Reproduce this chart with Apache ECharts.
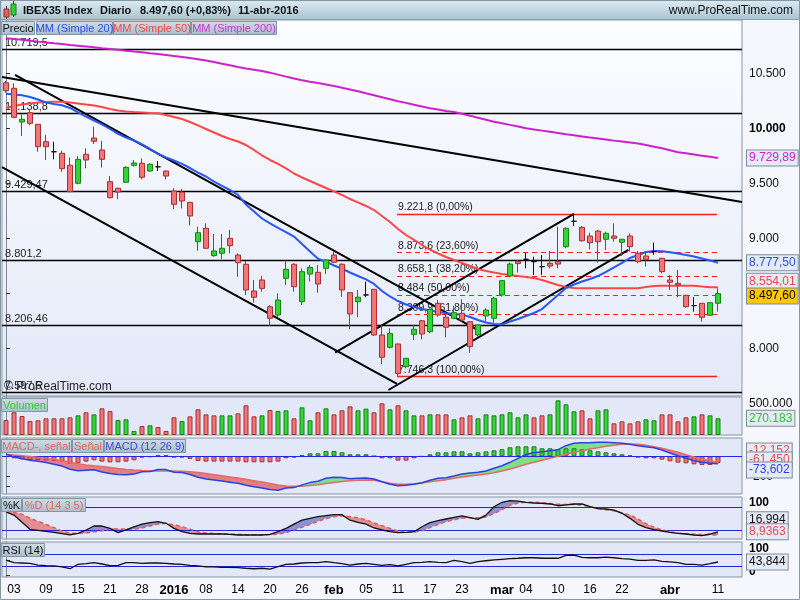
<!DOCTYPE html>
<html><head><meta charset="utf-8">
<script src="https://cdn.jsdelivr.net/npm/echarts@6/dist/echarts.min.js"></script>
<style>html,body{margin:0;padding:0;background:#f5f7fc;}#c{width:800px;height:600px;}</style>
</head><body><div id="c"></div>
<script>
// ---------- DATA ----------
const xTickIndex = [1,5,9,13,17,21,25,29,33,37,41,45,49,53,57,62,65,69,73,77,83,89];
const xTickText  = ['03','09','15','21','28','2016','08','14','20','26','feb','05','11','17','23','mar','04','10','16','22','abr','11'];
const boldTicks  = ['2016','feb','mar','abr'];

const open = [10414,10364,10057,10142,10036,9878,9787,9773,9664,9500, 9764,9912,9803,9515,9455,9509,9664,9682,9612,9650, 9612,9430,9420,9327,8969,9091,8842,8864,9000,8848, 8764,8521,8621,8378,8303,8636,8764,8424,8675,8691, 8727,8848,8764,8506,8424,8485,8536,8121,8009,8039, 7833,8127,8251,8151,8409,8282,8273,8318,8242,8121, 8294,8273,8485,8657,8788,8809,8788,8742,8773,8790, 8924,9155,9100,9021,9066,8991,9021,8964,9021,8864, 8839,8879,8818,8621,8591,8482,8388,8409,8300,8409];
const close = [10342,10100,10082,10045,9833,9833,9787,9633,9424,9718, 9712,9882,9718,9369,9421,9645,9685,9555,9673,9650, 9566,9309,9339,9203,9051,8909,8885,8909,8933,8778, 8530,8464,8545,8273,8439,8718,8560,8697,8736,8585, 8803,8782,8530,8312,8464,8485,8121,7918,8136,7771, 7909,8173,8130,8355,8303,8191,8324,8257,8015,8212, 8348,8455,8615,8766,8770,8809,8788,8742,8748,8766, 9091,9155,8978,8960,8969,9045,9000,8991,8924,8788, 8809,8879,8697,8600,8576,8378,8388,8282,8415,8497.6];
const low = [10324,10091,9930,10027,9787,9712,9718,9605,9420,9491, 9636,9857,9642,9364,9355,9505,9651,9536,9605,9612, 9536,9264,9270,9118,8887,8905,8833,8812,8864,8651, 8485,8415,8515,8203,8287,8575,8515,8394,8606,8506, 8676,8773,8469,8173,8282,8464,8112,7857,8000,7746, 7818,8076,8082,8136,8287,8100,8264,8242,7960,8106, 8242,8233,8469,8645,8688,8727,8667,8667,8727,8727, 8909,9112,8969,8900,8779,8894,8969,8839,8879,8773, 8742,8848,8682,8530,8464,8370,8333,8242,8295,8333];
const high = [10433,10409,10136,10166,10039,9939,9878,9796,9736,9748, 9818,10015,9885,9566,9460,9657,9712,9727,9682,9703, 9615,9455,9450,9330,9105,9136,9039,9039,9075,8864, 8794,8621,8657,8394,8500,8803,8773,8727,8757,8757, 8809,8879,8773,8510,8530,8606,8540,8212,8182,8045, 7912,8212,8255,8364,8439,8312,8385,8445,8245,8215, 8364,8469,8620,8779,8803,8869,8833,8848,8885,9105, 9100,9222,9112,9051,9075,9061,9136,8995,9045,8885, 8879,8960,8822,8667,8712,8485,8464,8412,8418,8545];

const ma20 = [10314,10307,10300,10285,10262,10235,10221,10209,10185,10144, 10107,10071,10035,9994,9950,9916,9889,9853,9812,9768, 9735,9707,9676,9639,9598,9562,9516,9476,9439,9394, 9307,9244,9180,9136,9094,9057,9016,8948,8880,8815, 8785,8753,8724,8689,8657,8626,8585,8521,8471,8430, 8398,8376,8357,8344,8330,8318,8312,8306,8285,8257, 8235,8221,8216,8244,8266,8294,8321,8357,8421,8485, 8548,8580,8607,8630,8657,8694,8735,8776,8821,8848, 8876,8885,8882,8873,8862,8848,8835,8816,8798,8777.5];
const ma50 = [10185,10203,10216,10226,10235,10239,10242,10242,10235,10226, 10216,10207,10194,10176,10162,10153,10148,10144,10139,10136, 10121,10103,10085,10057,10026,9994,9962,9930,9903,9880, 9848,9803,9753,9712,9676,9635,9589,9553,9521,9489, 9457,9426,9394,9357,9326,9294,9257,9203,9148,9085, 9030,8985,8939,8898,8862,8830,8803,8776,8748,8721, 8703,8689,8676,8666,8657,8648,8639,8621,8598,8576, 8557,8548,8546,8546,8546,8546,8546,8546,8546,8546, 8557,8566,8569,8569,8569,8569,8569,8562,8556,8554.01];
const ma200 = [10818,10811,10804,10796,10788,10781,10773,10766,10758,10751, 10744,10736,10728,10721,10714,10706,10698,10691,10683,10676, 10667,10658,10649,10639,10628,10616,10603,10587,10573,10557, 10544,10532,10521,10506,10488,10470,10452,10436,10423,10411, 10399,10385,10368,10353,10337,10318,10300,10282,10264,10246, 10231,10215,10199,10182,10170,10157,10148,10133,10115,10096, 10078,10059,10046,10031,10016,10001,9990,9979,9968,9957, 9946,9936,9926,9916,9907,9898,9888,9879,9870,9861, 9848,9833,9818,9800,9782,9773,9762,9751,9741,9729.89];

const volume = [242000,366000,306000,226000,237000,269000,269000,269000,285000,317000, 366000,333000,430000,387000,242000,253000,65000,145000,156000,129000, 65000,285000,226000,301000,414000,333000,317000,317000,317000,349000, 479000,301000,317000,403000,387000,398000,269000,446000,237000,366000, 430000,333000,398000,462000,398000,425000,366000,511000,414000,479000, 398000,317000,317000,333000,333000,333000,253000,285000,317000,269000, 333000,317000,333000,366000,285000,333000,285000,317000,333000,559000, 495000,382000,398000,269000,398000,414000,188000,220000,188000,220000, 253000,237000,333000,333000,220000,285000,301000,333000,317000,270183];

const macdLine = [20,-6,-24,-40,-49,-62,-80,-98,-130,-145, -139,-135,-156,-172,-182,-184,-178,-155,-152,-133, -133,-160,-163,-182,-210,-226,-237,-248,-259,-270, -290,-304,-318,-333,-340,-317,-313,-286,-263,-250, -220,-209,-212,-225,-220,-216,-227,-254,-280,-294, -290,-280,-264,-240,-220,-214,-197,-177,-167,-160, -147,-120,-94,-60,-20,20,36,46,56,66, 106,130,136,136,140,140,136,130,120,106, 96,86,63,33,6,-20,-44,-60,-70,-73.602];
const signalLine = [20,14,6,-3,-12,-22,-33,-45,-60,-75, -86,-95,-103,-112,-122,-131,-138,-142,-145,-146, -146,-147,-150,-155,-163,-173,-184,-195,-206,-217, -230,-244,-258,-273,-287,-297,-300,-299,-293,-284, -273,-262,-252,-245,-240,-236,-240,-254,-270,-280, -280,-274,-267,-254,-244,-234,-220,-207,-197,-187, -177,-164,-147,-127,-104,-80,-60,-40,-20,0, 20,40,56,73,86,100,110,120,123,120, 110,96,80,60,40,16,-7,-27,-44,-61.45];
const macdHist = [-1,-3.6,-5.4,-6.6,-6.6,-7.2,-8.4,-9.6,-12.7,-12.7, -9.6,-7.2,-9.6,-10.9,-10.9,-9.6,-7.2,-2.4,-1.2,2.4, 2.4,-2.4,-2.4,-4.8,-8.4,-9.6,-9.6,-9.6,-9.6,-9.6, -10.9,-10.9,-10.9,-10.9,-9.6,-3.6,-2.4,2.4,5.4,5.4, 9.6,9.6,7.2,3.6,3.6,3.6,0.5,-3.6,-3.6,-7.8, -7.8,-3.6,-0.5,3.6,7.2,7.2,9.0,9.0,5.4,7.2, 9.0,10.9,12.7,16.3,18.1,18.1,18.1,14.5,14.5,12.7, 14.5,14.5,12.7,10.9,9.0,7.2,5.4,3.6,1.8,-2.4, -3.6,-3.6,-6.0,-9.0,-11.5,-12.7,-14.5,-15.7,-15.7,-12.152];

const stochK = [68,60,41.5,23.6,21,18.5,15.8,12.4,9,13.3, 21.8,32,32,26,15,22,30,37,40.5,43, 39,26,17.4,13.3,11.5,11.5,11.5,11.5,10.7,9, 9,9,9,10.7,17.4,26,37,47,51.7,56, 58.5,61,61,47,41.5,37,27,21.8,17.4,15, 15.8,17.4,30,40.5,45.6,50,54,58,53.3,49, 60,81.5,92.8,97,96,92.8,91,90,88.5,84, 86,88.5,88.5,81.5,76.4,75.6,73,64.6,51.7,36.4, 27.7,22.6,19.2,15.8,13.3,11.5,9,7.2,11.5,16.994];
const stochD = [68,67,62,52,44,36,28,19,14,13, 14,17,20,24,25,24,24,27,32,37, 39,35,30,24,17,14,12.5,12,11.5,11, 10,9.5,9.5,9.5,11,15,22,29,36,44, 51,56,58,56,53,48,40,33,26,19, 16,16,20,28,36,43,48,52,53,53, 55,64,74,85,91,93,93,92,90,88, 87,87,86,81,77,74,71,66,60,50, 38,29,22,17,14,12,11,10,9.3,8.9363];
const rsi = [50,41.6,40.6,39.6,34,31.9,31,27.7,22,36.4, 38.5,41.6,37.4,31.9,33,41.6,41.6,39.6,40.6,40.6, 39.6,37.4,36.4,33,31,27.7,27.7,26.7,26.7,25.4, 23.5,22,23.5,20.8,28.6,36.4,37.4,40.6,41.6,41.6, 45,41.6,38.5,34,37.4,39.6,36.4,33,35.2,31, 36.4,41.6,42.6,45,42.6,41.6,49.3,45,39.6,45, 48,50.5,52.6,54.6,56,57.7,57.7,56,56,56, 65.3,66.6,59,57.7,57.7,60,57.7,54.6,53.5,49.3, 49.3,50.5,46.2,44,41.6,36.4,36.4,34,38.5,43.844];

const hLevels = [10719.5,10138.8,9429.47,8801.2,8206.46,7597.6];
const hLabels = ['10.719,5','10.138,8','9.429,47','8.801,2','8.206,46','7.597,6'];
const fibLevels = [9221.8,8873.6,8658.1,8484,8309.9,7746.3];
const fibLabels = ['9.221,8 (0,00%)','8.873,6 (23,60%)','8.658,1 (38,20%)','8.484 (50,00%)','8.309,9 (61,80%)','7.746,3 (100,00%)'];
const fibStart = 48.875, fibEnd = 88.875;
// trend lines: [x1, price1, x2, price2] (x in bar index units)
const trendLines = [
  [-0.5, 10466, 92, 9330],
  [1.125, 10485, 59, 8166],
  [-0.5, 9648, 48.875, 7676],
  [41.125, 7960, 71, 9222],
  [47.8, 7621, 77.8, 8894]
];

// ---------- STYLE ----------
const FONT = '"Liberation Sans", Arial, sans-serif';
const UP_FILL = '#36d336', UP_LINE = '#148414', DN_FILL = '#f27474', DN_LINE = '#a83030';
const XMIN = -0.5, XMAX = 92;
const chart = echarts.init(document.getElementById('c'), null, {width: 800, height: 600});

function fmt(v, dec) {
  const neg = v < 0; const s = Math.abs(v).toFixed(dec).split('.');
  const a = s[0].replace(/\B(?=(\d{3})+(?!\d))/g, '.');
  return (neg ? '-' : '') + a + (s[1] ? ',' + s[1] : '');
}
const pairs = arr => arr.map((v, i) => [i, v]);
const isUp = i => i > 0 && close[i] > close[i - 1];

const priceBg = {type: 'linear', x: 0, y: 0, x2: 0, y2: 1, colorStops: [{offset: 0, color: '#fcfdff'}, {offset: 1, color: '#e3e9f8'}]};
const lowBg = '#e2e8f8';
const gridBase = {left: 2, right: 58, show: true, borderColor: '#8797a3', borderWidth: 1, containLabel: false, outerBoundsMode: 'none'};
const grid = [
  Object.assign({}, gridBase, {top: 20, height: 376, backgroundColor: priceBg}),
  Object.assign({}, gridBase, {top: 397, height: 38, backgroundColor: lowBg}),
  Object.assign({}, gridBase, {top: 438, height: 56, backgroundColor: lowBg}),
  Object.assign({}, gridBase, {top: 497, height: 42, backgroundColor: lowBg}),
  Object.assign({}, gridBase, {top: 542, height: 35, backgroundColor: lowBg})
];

const xAxis = [0, 1, 2, 3, 4].map(g => ({
  type: 'value', gridIndex: g, min: XMIN, max: XMAX, show: g === 4,
  axisLine: {show: false}, axisTick: {show: false}, splitLine: {show: false},
  axisLabel: g === 4 ? {
    customValues: xTickIndex, margin: 7, fontSize: 12, color: '#000', fontFamily: FONT,
    formatter: v => { const t = xTickText[xTickIndex.indexOf(Math.round(v))] || ''; return boldTicks.includes(t) ? '{b|' + t + '}' : t; },
    rich: {b: {fontWeight: 'bold', fontSize: 13, color: '#000', fontFamily: FONT}}
  } : {show: false}
}));

const yBase = {type: 'value', position: 'right', splitLine: {show: false},
  axisLine: {show: true, lineStyle: {color: '#7c8c98', width: 1}}};
const labStyle = {fontSize: 12, color: '#111', fontFamily: FONT, margin: 7};
const richShift = {
  b: {fontWeight: 'bold', fontSize: 12, color: '#000', fontFamily: FONT},
  dn: {fontWeight: 'bold', fontSize: 12, color: '#000', fontFamily: FONT, padding: [7, 0, 0, 0]},
  up: {fontWeight: 'bold', fontSize: 12, color: '#000', fontFamily: FONT, padding: [0, 0, 7, 0]}
};
const yAxis = [
  Object.assign({}, yBase, {gridIndex: 0, min: 7566.4, max: 10984.6,
    axisTick: {show: true, customValues: [8000, 8500, 9000, 9500, 10000, 10500], length: 4, lineStyle: {color: '#333'}},
    axisLabel: Object.assign({}, labStyle, {customValues: [8000, 9000, 9500, 10000, 10500],
      formatter: v => v === 10000 ? '{b|' + fmt(v, 0) + '}' : fmt(v, 0), rich: richShift})}),
  Object.assign({}, yBase, {gridIndex: 1, min: 0, max: 612903,
    axisTick: {show: true, customValues: [500000], length: 4, lineStyle: {color: '#333'}},
    axisLabel: Object.assign({}, labStyle, {customValues: [500000], formatter: v => fmt(v, 0)})}),
  Object.assign({}, yBase, {gridIndex: 2, min: -377, max: 183,
    axisTick: {show: true, customValues: [100, -200, -300], length: 4, lineStyle: {color: '#333'}},
    axisLabel: Object.assign({}, labStyle, {customValues: [-200], formatter: v => fmt(v, 0)})}),
  {type: 'value', gridIndex: 2, min: -68.2, max: 33.1, show: false, splitLine: {show: false}},
  Object.assign({}, yBase, {gridIndex: 3, min: -1.3, max: 106.4,
    axisTick: {show: true, customValues: [100, 20], length: 4, lineStyle: {color: '#333'}},
    axisLabel: Object.assign({}, labStyle, {customValues: [100], formatter: v => '{dn|100}', rich: richShift})}),
  Object.assign({}, yBase, {gridIndex: 4, min: -4.9, max: 108.9,
    axisTick: {show: true, customValues: [0, 50, 100], length: 4, lineStyle: {color: '#333'}},
    axisLabel: Object.assign({}, labStyle, {customValues: [0, 100], formatter: v => v > 50 ? '{dn|100}' : '{up|0}', rich: richShift})})
];

const lineS = (data, xi, yi, color, width, z, extra) => Object.assign({
  type: 'line', xAxisIndex: xi, yAxisIndex: yi, data: pairs(data), showSymbol: false, symbol: 'none',
  silent: true, z: z, lineStyle: {color: color, width: width}
}, extra || {});

// band data is [value, index]; encode puts the value first so the stack runs on y
const bandS = (data, xi, yi, stack, areaColor, z) => ({
  type: 'line', xAxisIndex: xi, yAxisIndex: yi, data: data, encode: {x: 1, y: 0},
  stack: stack, stackStrategy: 'all',
  symbol: 'none', showSymbol: false, silent: true, z: z, lineStyle: {width: 0, opacity: 0},
  areaStyle: areaColor ? {color: areaColor, opacity: 1} : undefined
});

const hLineMark = {
  symbol: ['none', 'none'], silent: true, z: 2, animation: false,
  lineStyle: {color: '#000', width: 1.3, type: 'solid'},
  label: {show: true, position: 'insideStartTop', distance: [3, 1], fontSize: 11, color: '#222', fontFamily: FONT},
  data: hLevels.map((v, k) => ({yAxis: v, label: {formatter: hLabels[k]}}))
};
const fibMark = {
  symbol: ['none', 'none'], silent: true, z: 2, animation: false,
  lineStyle: {color: '#ff1e1e', width: 1},
  label: {show: true, position: 'insideStartTop', distance: [1, 1], fontSize: 10.5, color: '#222', fontFamily: FONT},
  data: fibLevels.map((v, k) => [
    {coord: [fibStart, v], lineStyle: {type: (k === 0 || k === 5) ? 'solid' : [5, 4], color: '#ff1e1e', width: (k === 0 || k === 5) ? 1.3 : 1}, label: {formatter: fibLabels[k]}},
    {coord: [fibEnd, v]}
  ])
};
const trendMark = {
  symbol: ['none', 'none'], silent: true, z: 3, animation: false,
  lineStyle: {color: '#000', width: 2, type: 'solid'}, label: {show: false},
  data: trendLines.map(t => [{coord: [t[0], t[1]]}, {coord: [t[2], t[3]]}])
};

const macdBase = macdLine.map((m, i) => [Math.min(m, signalLine[i]), i]);
const macdRed = macdLine.map((m, i) => [Math.max(signalLine[i] - m, 0), i]);
const macdGreen = macdLine.map((m, i) => [Math.max(m - signalLine[i], 0), i]);
const stBase = stochK.map((k, i) => [Math.min(k, stochD[i]), i]);
const stBlue = stochK.map((k, i) => [Math.max(k - stochD[i], 0), i]);
const stRed = stochK.map((k, i) => [Math.max(stochD[i] - k, 0), i]);

const blueLevel = (vals) => ({symbol: ['none', 'none'], silent: true, label: {show: false},
  lineStyle: {color: '#2626e0', width: 1.2, type: 'solid'}, data: vals.map(v => ({yAxis: v}))});

const series = [
  lineS(ma200, 0, 0, '#cc22cc', 2, 3, {markLine: hLineMark}),
  lineS(ma50, 0, 0, '#ff4747', 2, 3, {markLine: fibMark}),
  lineS(ma20, 0, 0, '#2957f2', 2, 3, {markLine: trendMark}),
  {type: 'candlestick', xAxisIndex: 0, yAxisIndex: 0, z: 10, silent: true, barWidth: 5,
    data: open.map((o, i) => [i, o, close[i], low[i], high[i]]),
    itemStyle: {color: UP_FILL, color0: DN_FILL, borderColor: UP_LINE, borderColor0: DN_LINE, borderColorDoji: '#111', borderWidth: 1}},
  {type: 'bar', xAxisIndex: 1, yAxisIndex: 1, barWidth: 5, silent: true, z: 3,
    data: volume.map((v, i) => ({value: [i, v], itemStyle: {color: isUp(i) ? UP_FILL : DN_FILL, borderColor: isUp(i) ? UP_LINE : DN_LINE, borderWidth: 1}}))},
  bandS(macdBase, 2, 2, 'mf', null, 2),
  bandS(macdRed, 2, 2, 'mf', 'rgba(226,98,98,0.78)', 2),
  bandS(macdGreen, 2, 2, 'mf', 'rgba(108,222,120,0.85)', 2),
  {type: 'bar', xAxisIndex: 2, yAxisIndex: 3, barWidth: 5, silent: true, z: 3,
    data: macdHist.map((v, i) => ({value: [i, v], itemStyle: {color: v >= 0 ? UP_FILL : DN_FILL, borderColor: v >= 0 ? UP_LINE : DN_LINE, borderWidth: 1}}))},
  lineS(signalLine, 2, 2, '#e46a6a', 1.5, 5),
  lineS(macdLine, 2, 2, '#2f3fe6', 1.5, 6, {markLine: blueLevel([0])}),
  bandS(stBase, 3, 4, 'sf', null, 2),
  bandS(stBlue, 3, 4, 'sf', 'rgba(118,122,200,0.8)', 2),
  bandS(stRed, 3, 4, 'sf', 'rgba(226,112,112,0.75)', 2),
  lineS(stochD, 3, 4, '#e45a5a', 1.5, 5, {lineStyle: {color: '#e45a5a', width: 1.5, type: [4, 3]}}),
  lineS(stochK, 3, 4, '#111', 1.3, 6, {markLine: blueLevel([20, 80])}),
  lineS(rsi, 4, 5, '#111', 1.3, 5, {markLine: blueLevel([30, 70])})
];

chart.setOption({
  animation: false,
  backgroundColor: '#f5f7fc',
  textStyle: {fontFamily: FONT},
  grid: grid, xAxis: xAxis, yAxis: yAxis, series: series
});

// ---------- GRAPHIC OVERLAYS (header, tabs, value boxes) ----------
const py = (axisIdx, v) => chart.convertToPixel({yAxisIndex: axisIdx}, v);
const tabGrad = {type: 'linear', x: 0, y: 0, x2: 0, y2: 1, colorStops: [{offset: 0, color: '#d0dde6'}, {offset: 1, color: '#a9bdca'}]};
function tab(text, color, x, y, w) {
  return {type: 'group', z: 50, children: [
    {type: 'rect', z: 50, shape: {x: x + 0.5, y: y + 0.5, width: w, height: 13}, style: {fill: tabGrad, stroke: '#7f97a6', lineWidth: 1}},
    {type: 'text', z: 51, x: x + 0.5 + w / 2, y: y + 7.5, style: {text: text, fill: color, font: '11px ' + FONT, align: 'center', verticalAlign: 'middle'}}
  ]};
}
let zc = 60;
function vbox(text, y, fill, bg) {
  zc += 1;
  return {type: 'text', z: zc, x: 747, y: y, style: {text: text, fill: fill, font: '12px ' + FONT,
    backgroundColor: bg || '#e4eaf6', borderColor: '#7d8d9b', borderWidth: 1, padding: [2, 2, 1, 2],
    verticalAlign: 'middle', align: 'left'}};
}
const last = open.length - 1;
const headGrad = {type: 'linear', x: 0, y: 0, x2: 0, y2: 1, colorStops: [{offset: 0, color: '#dcebf2'}, {offset: 1, color: '#a8c3d2'}]};
const hdrFont = 'bold 11px ' + FONT;
const graphics = [
  {type: 'rect', z: 40, shape: {x: 0, y: 0, width: 800, height: 20}, style: {fill: headGrad}},
  {type: 'line', z: 41, shape: {x1: 0, y1: 19.5, x2: 800, y2: 19.5}, style: {stroke: '#86a2b1', lineWidth: 1}},
  {type: 'line', z: 42, shape: {x1: 6.5, y1: 6, x2: 6.5, y2: 19}, style: {stroke: '#333', lineWidth: 1}},
  {type: 'rect', z: 43, shape: {x: 4, y: 9, width: 5, height: 8}, style: {fill: '#ee5a5a', stroke: '#992e2e', lineWidth: 1}},
  {type: 'line', z: 42, shape: {x1: 13.5, y1: 1, x2: 13.5, y2: 17}, style: {stroke: '#333', lineWidth: 1}},
  {type: 'rect', z: 43, shape: {x: 11, y: 4, width: 5, height: 11}, style: {fill: '#35cc35', stroke: '#1f7a1f', lineWidth: 1}},
  {type: 'text', z: 44, x: 23, y: 11, style: {text: 'IBEX35 Index', fill: '#111', font: hdrFont, verticalAlign: 'middle'}},
  {type: 'text', z: 44, x: 100, y: 11, style: {text: 'Diario', fill: '#111', font: hdrFont, verticalAlign: 'middle'}},
  {type: 'text', z: 44, x: 140, y: 11, style: {text: '8.497,60 (+0,83%)', fill: '#111', font: hdrFont, verticalAlign: 'middle'}},
  {type: 'text', z: 44, x: 238, y: 11, style: {text: '11-abr-2016', fill: '#111', font: hdrFont, verticalAlign: 'middle'}},
  {type: 'text', z: 44, x: 793, y: 11, style: {text: 'www.ProRealTime.com', fill: '#111', font: '12px ' + FONT, align: 'right', verticalAlign: 'middle'}},
  tab('Precio', '#111', 1, 21, 33),
  tab('MM (Simple 20)', '#2a4ff0', 36, 21, 76),
  tab('MM (Simple 50)', '#f04848', 113, 21, 77),
  tab('MM (Simple 200)', '#cc33cc', 191, 21, 85),
  tab('Volumen', '#33d033', 1, 398, 46),
  tab('MACD-, señal', '#e46464', 1, 439, 70),
  tab('Señal', '#e46464', 72, 439, 31),
  tab('MACD (12 26 9)', '#3a4ae0', 104, 439, 81),
  tab('%K', '#111', 1, 498, 20),
  tab('%D (14 3 5)', '#e46464', 22, 498, 63),
  tab('RSI (14)', '#111', 1, 543, 43),
  {type: 'text', z: 20, x: 4, y: 387, style: {text: '© ProRealTime.com', fill: '#222', font: '12px ' + FONT, verticalAlign: 'middle'}},
  vbox(fmt(ma200[last], 2), py(0, ma200[last]), '#cc22cc'),
  vbox(fmt(ma20[last], 2), py(0, ma20[last]), '#2a4ff0'),
  vbox(fmt(ma50[last], 2), py(0, ma50[last]) - 6, '#f04848'),
  vbox(fmt(close[last], 2), py(0, close[last]) + 2.5, '#000', '#ffc800'),
  vbox(fmt(volume[last], 0), py(1, volume[last]), '#33c033'),
  vbox(fmt(macdHist[last], 3), py(3, macdHist[last]) - 12, '#e05050'),
  vbox(fmt(signalLine[last], 3), py(2, signalLine[last]) - 2.5, '#e05050'),
  vbox(fmt(macdLine[last], 3), py(2, macdLine[last]) + 6.3, '#2f3fe6'),
  vbox(fmt(stochK[last], 3), py(4, stochK[last]) - 12, '#111'),
  vbox(fmt(stochD[last], 4), py(4, stochD[last]) - 3.3, '#e05050'),
  vbox(fmt(rsi[last], 3), py(5, rsi[last]), '#111'),
  {type: 'rect', z: 90, shape: {x: 0.5, y: 0.5, width: 799, height: 599}, style: {fill: 'none', stroke: '#8595a2', lineWidth: 1}}
];
chart.setOption({graphic: graphics});
</script>
</body></html>
